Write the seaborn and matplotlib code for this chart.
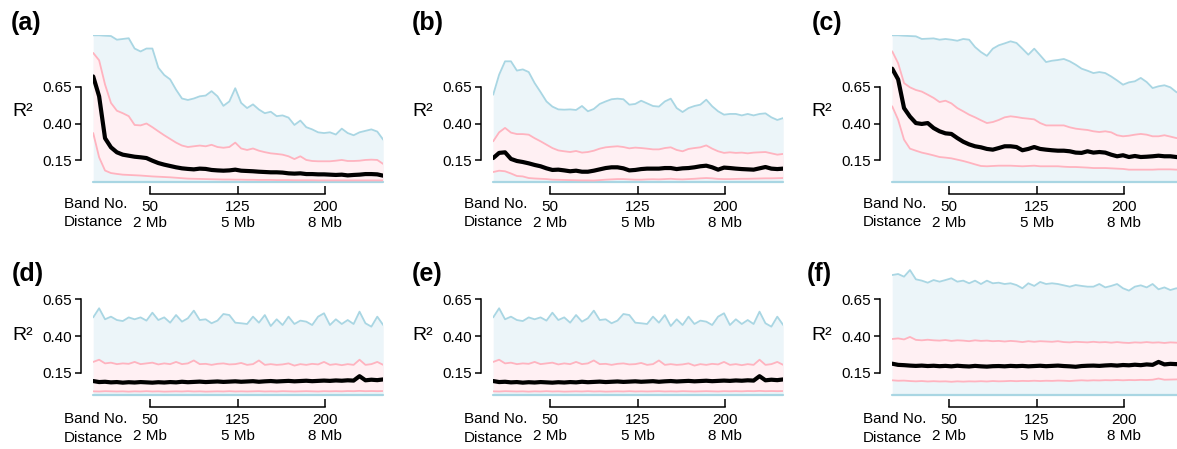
import numpy as np
import matplotlib
matplotlib.use("Agg")
import matplotlib.pyplot as plt
import seaborn as sns

sns.set_style("ticks")
plt.rcParams['font.family'] = ['Liberation Sans', 'DejaVu Sans']
for key in ("text.color", "axes.labelcolor", "xtick.color", "ytick.color",
            "axes.edgecolor"):
    plt.rcParams[key] = "black"

# band numbers (x) and axis labels
band = np.linspace(1, 250, 50)
xticks = [50, 125, 200]
xticklabels = ["50\n2 Mb", "125\n5 Mb", "200\n8 Mb"]
yticks = [0.15, 0.40, 0.65]
yticklabels = ["0.15", "0.40", "0.65"]
r2_floor = 0.0

# (a)
a_max = [1.0, 1.0, 0.997, 0.995, 0.97, 0.975, 0.98, 0.91, 0.89, 0.91,
         0.91, 0.78, 0.73, 0.70, 0.63, 0.57, 0.56, 0.57, 0.585, 0.59,
         0.62, 0.585, 0.52, 0.55, 0.64, 0.54, 0.505, 0.53, 0.495, 0.47,
         0.48, 0.45, 0.455, 0.44, 0.39, 0.42, 0.375, 0.36, 0.34, 0.335,
         0.34, 0.325, 0.365, 0.335, 0.32, 0.34, 0.35, 0.36, 0.345, 0.29]
a_hi = [0.88, 0.83, 0.665, 0.54, 0.487, 0.47, 0.45, 0.39, 0.387, 0.40,
        0.375, 0.347, 0.32, 0.295, 0.27, 0.25, 0.24, 0.245, 0.25, 0.245,
        0.255, 0.24, 0.235, 0.24, 0.27, 0.23, 0.22, 0.23, 0.215, 0.205,
        0.197, 0.193, 0.188, 0.177, 0.158, 0.177, 0.152, 0.145, 0.143, 0.143,
        0.143, 0.147, 0.152, 0.145, 0.145, 0.147, 0.152, 0.154, 0.152, 0.125]
a_mid = [0.72, 0.585, 0.30, 0.238, 0.204, 0.188, 0.181, 0.174, 0.17, 0.165,
         0.147, 0.131, 0.12, 0.111, 0.102, 0.095, 0.091, 0.088, 0.093, 0.091,
         0.084, 0.081, 0.079, 0.081, 0.086, 0.079, 0.077, 0.075, 0.072, 0.07,
         0.068, 0.068, 0.066, 0.061, 0.059, 0.061, 0.056, 0.056, 0.054, 0.054,
         0.052, 0.05, 0.052, 0.047, 0.05, 0.052, 0.056, 0.056, 0.054, 0.045]
a_lo = [0.335, 0.17, 0.08, 0.063, 0.057, 0.052, 0.05, 0.048, 0.046, 0.043,
        0.04, 0.038, 0.036, 0.034, 0.031, 0.028, 0.025, 0.024, 0.023, 0.022,
        0.021, 0.02, 0.019, 0.019, 0.018, 0.018, 0.017, 0.017, 0.016, 0.016,
        0.016, 0.015, 0.015, 0.015, 0.014, 0.014, 0.014, 0.014, 0.013, 0.013,
        0.013, 0.013, 0.013, 0.013, 0.013, 0.013, 0.013, 0.013, 0.013, 0.013]

# (b)
b_max = [0.596, 0.732, 0.823, 0.823, 0.76, 0.768, 0.75, 0.675, 0.614, 0.55,
         0.515, 0.496, 0.494, 0.496, 0.492, 0.519, 0.483, 0.499, 0.533, 0.55,
         0.565, 0.569, 0.565, 0.528, 0.533, 0.555, 0.537, 0.519, 0.515, 0.55,
         0.569, 0.505, 0.478, 0.505, 0.519, 0.528, 0.562, 0.517, 0.483, 0.46,
         0.465, 0.465, 0.455, 0.465, 0.455, 0.465, 0.469, 0.442, 0.424, 0.437]
b_hi = [0.279, 0.34, 0.37, 0.338, 0.328, 0.328, 0.324, 0.30, 0.279, 0.256,
        0.233, 0.217, 0.211, 0.206, 0.213, 0.202, 0.206, 0.215, 0.229, 0.238,
        0.242, 0.245, 0.24, 0.231, 0.236, 0.233, 0.229, 0.224, 0.224, 0.233,
        0.238, 0.22, 0.211, 0.227, 0.233, 0.238, 0.251, 0.229, 0.211, 0.20,
        0.204, 0.20, 0.202, 0.197, 0.202, 0.204, 0.206, 0.197, 0.188, 0.193]
b_mid = [0.165, 0.2, 0.204, 0.159, 0.145, 0.138, 0.129, 0.118, 0.109, 0.095,
         0.084, 0.086, 0.081, 0.075, 0.079, 0.072, 0.072, 0.079, 0.088, 0.097,
         0.102, 0.102, 0.095, 0.081, 0.084, 0.09, 0.093, 0.093, 0.093, 0.097,
         0.097, 0.09, 0.095, 0.097, 0.102, 0.109, 0.113, 0.102, 0.086, 0.1,
         0.097, 0.093, 0.09, 0.088, 0.086, 0.095, 0.104, 0.093, 0.09, 0.093]
b_lo = [0.07, 0.079, 0.075, 0.06, 0.043, 0.04, 0.029, 0.026, 0.024, 0.022,
        0.018, 0.017, 0.016, 0.015, 0.014, 0.013, 0.013, 0.012, 0.015, 0.018,
        0.02, 0.022, 0.022, 0.02, 0.018, 0.018, 0.02, 0.021, 0.02, 0.022,
        0.024, 0.021, 0.02, 0.022, 0.024, 0.027, 0.029, 0.027, 0.023, 0.022,
        0.022, 0.023, 0.024, 0.024, 0.025, 0.026, 0.027, 0.027, 0.028, 0.029]

# (c)
c_max = [1.0, 1.0, 0.997, 0.995, 0.993, 0.975, 0.977, 0.979, 0.97, 0.975,
         0.97, 0.963, 0.975, 0.97, 0.92, 0.886, 0.86, 0.909, 0.932, 0.945,
         0.959, 0.948, 0.909, 0.868, 0.909, 0.864, 0.818, 0.827, 0.832, 0.839,
         0.823, 0.80, 0.773, 0.759, 0.743, 0.75, 0.743, 0.72, 0.693, 0.664,
         0.68, 0.687, 0.71, 0.682, 0.641, 0.653, 0.66, 0.646, 0.614, 0.596]
c_hi = [0.891, 0.81, 0.675, 0.646, 0.628, 0.617, 0.596, 0.574, 0.546, 0.555,
        0.537, 0.505, 0.483, 0.46, 0.442, 0.422, 0.403, 0.41, 0.424, 0.442,
        0.449, 0.444, 0.437, 0.433, 0.428, 0.403, 0.387, 0.387, 0.387, 0.387,
        0.374, 0.365, 0.36, 0.356, 0.347, 0.342, 0.347, 0.34, 0.32, 0.313,
        0.317, 0.324, 0.329, 0.324, 0.313, 0.313, 0.32, 0.311, 0.301, 0.297]
c_mid = [0.773, 0.70, 0.505, 0.447, 0.403, 0.397, 0.403, 0.369, 0.347, 0.333,
         0.329, 0.301, 0.276, 0.258, 0.245, 0.238, 0.227, 0.222, 0.233, 0.245,
         0.245, 0.24, 0.218, 0.227, 0.24, 0.227, 0.222, 0.218, 0.215, 0.215,
         0.211, 0.202, 0.20, 0.211, 0.202, 0.206, 0.202, 0.188, 0.177, 0.184,
         0.172, 0.179, 0.172, 0.174, 0.177, 0.181, 0.177, 0.177, 0.172, 0.17]
c_lo = [0.517, 0.426, 0.29, 0.229, 0.215, 0.202, 0.193, 0.183, 0.172, 0.168,
        0.163, 0.154, 0.145, 0.134, 0.122, 0.111, 0.109, 0.111, 0.113, 0.113,
        0.113, 0.111, 0.109, 0.111, 0.113, 0.109, 0.109, 0.109, 0.109, 0.106,
        0.104, 0.104, 0.102, 0.10, 0.097, 0.097, 0.097, 0.095, 0.093, 0.091,
        0.086, 0.086, 0.086, 0.086, 0.086, 0.088, 0.088, 0.088, 0.086, 0.086]

# (d) -- (e) shows the same curves
d_max = [0.528, 0.59, 0.515, 0.533, 0.51, 0.503, 0.528, 0.515, 0.528, 0.506,
         0.56, 0.51, 0.528, 0.492, 0.544, 0.499, 0.522, 0.574, 0.51, 0.515,
         0.488, 0.506, 0.551, 0.544, 0.492, 0.488, 0.483, 0.533, 0.492, 0.544,
         0.469, 0.515, 0.476, 0.533, 0.483, 0.506, 0.499, 0.476, 0.533, 0.556,
         0.476, 0.515, 0.483, 0.51, 0.483, 0.567, 0.488, 0.465, 0.533, 0.476]
d_hi = [0.225, 0.24, 0.215, 0.22, 0.21, 0.215, 0.212, 0.225, 0.21, 0.215,
        0.22, 0.208, 0.215, 0.21, 0.225, 0.21, 0.215, 0.235, 0.21, 0.212,
        0.205, 0.212, 0.215, 0.208, 0.21, 0.218, 0.205, 0.21, 0.235, 0.205,
        0.21, 0.205, 0.208, 0.215, 0.20, 0.21, 0.205, 0.212, 0.208, 0.225,
        0.205, 0.21, 0.203, 0.21, 0.205, 0.24, 0.205, 0.21, 0.225, 0.205]
d_mid = [0.095, 0.088, 0.09, 0.086, 0.088, 0.084, 0.087, 0.085, 0.088, 0.086,
         0.084, 0.087, 0.085, 0.088, 0.086, 0.09, 0.087, 0.089, 0.091, 0.088,
         0.09, 0.092, 0.089, 0.091, 0.093, 0.09, 0.092, 0.094, 0.09, 0.093,
         0.095, 0.092, 0.094, 0.096, 0.093, 0.095, 0.097, 0.094, 0.096, 0.098,
         0.096, 0.099, 0.097, 0.10, 0.098, 0.128, 0.10, 0.104, 0.101, 0.106]
d_lo = [0.025, 0.024, 0.026, 0.025, 0.024, 0.025, 0.023, 0.025, 0.024, 0.026,
        0.024, 0.025, 0.023, 0.024, 0.025, 0.024, 0.026, 0.024, 0.025, 0.023,
        0.024, 0.025, 0.024, 0.026, 0.024, 0.025, 0.024, 0.025, 0.026, 0.024,
        0.025, 0.024, 0.026, 0.025, 0.024, 0.025, 0.026, 0.025, 0.024, 0.026,
        0.025, 0.026, 0.025, 0.027, 0.026, 0.028, 0.026, 0.027, 0.026, 0.027]

# (f)
f_max = [0.816, 0.823, 0.805, 0.85, 0.787, 0.778, 0.764, 0.782, 0.771, 0.782,
         0.794, 0.771, 0.778, 0.76, 0.778, 0.755, 0.778, 0.76, 0.764, 0.755,
         0.76, 0.748, 0.726, 0.76, 0.742, 0.769, 0.755, 0.76, 0.755, 0.746,
         0.737, 0.748, 0.742, 0.737, 0.737, 0.755, 0.732, 0.742, 0.755, 0.726,
         0.71, 0.737, 0.746, 0.732, 0.755, 0.719, 0.732, 0.714, 0.726, 0.719]
f_hi = [0.381, 0.385, 0.378, 0.395, 0.375, 0.372, 0.376, 0.372, 0.37, 0.374,
        0.368, 0.372, 0.37, 0.366, 0.372, 0.368, 0.37, 0.366, 0.368, 0.364,
        0.368, 0.365, 0.36, 0.366, 0.362, 0.366, 0.364, 0.362, 0.366, 0.36,
        0.358, 0.362, 0.36, 0.358, 0.362, 0.358, 0.36, 0.356, 0.36, 0.356,
        0.354, 0.358, 0.356, 0.36, 0.356, 0.358, 0.354, 0.358, 0.356, 0.354]
f_mid = [0.213, 0.205, 0.203, 0.2, 0.198, 0.2, 0.197, 0.199, 0.196, 0.198,
         0.195, 0.199, 0.196, 0.194, 0.198, 0.195, 0.193, 0.196, 0.197, 0.195,
         0.198, 0.196, 0.198, 0.195, 0.197, 0.199, 0.196, 0.198, 0.2, 0.197,
         0.195, 0.192, 0.197, 0.199, 0.2, 0.198, 0.201, 0.203, 0.2, 0.204,
         0.202, 0.206, 0.203, 0.208, 0.205, 0.225, 0.208, 0.212, 0.21, 0.212]
f_lo = [0.1, 0.097, 0.098, 0.095, 0.093, 0.095, 0.092, 0.094, 0.092, 0.093,
        0.09, 0.093, 0.091, 0.093, 0.092, 0.094, 0.092, 0.095, 0.093, 0.094,
        0.096, 0.094, 0.096, 0.095, 0.097, 0.095, 0.097, 0.096, 0.098, 0.097,
        0.095, 0.098, 0.1, 0.098, 0.1, 0.099, 0.101, 0.1, 0.102, 0.1,
        0.102, 0.101, 0.103, 0.102, 0.104, 0.112, 0.104, 0.105, 0.106, 0.107]

panels = [
    ("(a)", a_max, a_hi, a_mid, a_lo),
    ("(b)", b_max, b_hi, b_mid, b_lo),
    ("(c)", c_max, c_hi, c_mid, c_lo),
    ("(d)", d_max, d_hi, d_mid, d_lo),
    ("(e)", d_max, d_hi, d_mid, d_lo),
    ("(f)", f_max, f_hi, f_mid, f_lo),
]

BLUE, BLUE_FILL = "#a9d6e3", "#ecf5f9"
PINK, PINK_FILL = "#ffb3bf", "#fff0f3"

W, H = 1177, 449
fig = plt.figure(figsize=(W / 100, H / 100), dpi=100)

col_x = [93.2, 493.2, 892.2]     # pixel x of band 1
row_y0 = [182.3, 395.0]           # pixel y of R2 = 0
ax_w, ax_h = 290, 147

label_x = [[11, 412, 812], [12, 412, 807]]
label_y = [23, 274]
r2_y = [112, 336]
band_y = [204, 419]
dist_y = [222, 438]

for i, (name, mx, hi, mid, lo) in enumerate(panels):
    row, col = divmod(i, 3)
    x0, y0 = col_x[col], row_y0[row]
    ax = fig.add_axes([x0 / W, (H - y0) / H, ax_w / W, ax_h / H])

    ax.fill_between(band, r2_floor, mx, color=BLUE_FILL, lw=0)
    ax.fill_between(band, lo, hi, color=PINK_FILL, lw=0)
    sns.lineplot(x=band, y=mx, color=BLUE, lw=1.3, ax=ax)
    sns.lineplot(x=band, y=[r2_floor] * len(band), color=BLUE, lw=1.6,
                 ax=ax, clip_on=False)
    sns.lineplot(x=band, y=hi, color=PINK, lw=1.3, ax=ax)
    sns.lineplot(x=band, y=lo, color=PINK, lw=1.3, ax=ax)
    sns.lineplot(x=band, y=mid, color="black", lw=3.0, ax=ax)

    ax.set(xlim=(1, 250), ylim=(0, 1), xlabel="", ylabel="")
    ax.set_xticks(xticks)
    ax.set_xticklabels(xticklabels)
    ax.set_yticks(yticks)
    ax.set_yticklabels(yticklabels)
    for t in ax.get_xticklabels():
        t.set_linespacing(1.05)
    sns.despine(ax=ax, offset=8.6, trim=True)
    for s in ("left", "bottom"):
        ax.spines[s].set_linewidth(1.1)
    ax.tick_params(axis="y", direction="out", length=4.3, width=1.1,
                   pad=2.5, labelsize=11)
    ax.tick_params(axis="x", direction="in", length=5.5, width=1.1,
                   pad=4, labelsize=11)

    dx = col_x[col] - col_x[0]
    fig.text(label_x[row][col] / W, 1 - label_y[row] / H, name,
             fontsize=18, fontweight="bold", va="center", ha="left")
    fig.text((12 + dx) / W, 1 - r2_y[row] / H, "R²",
             fontsize=14, va="center", ha="left")
    fig.text((64 + dx) / W, 1 - band_y[row] / H, "Band No.",
             fontsize=11, va="center", ha="left")
    fig.text((64 + dx) / W, 1 - dist_y[row] / H, "Distance",
             fontsize=11, va="center", ha="left")

fig.savefig("out.png", dpi=100)
plt.close(fig)
